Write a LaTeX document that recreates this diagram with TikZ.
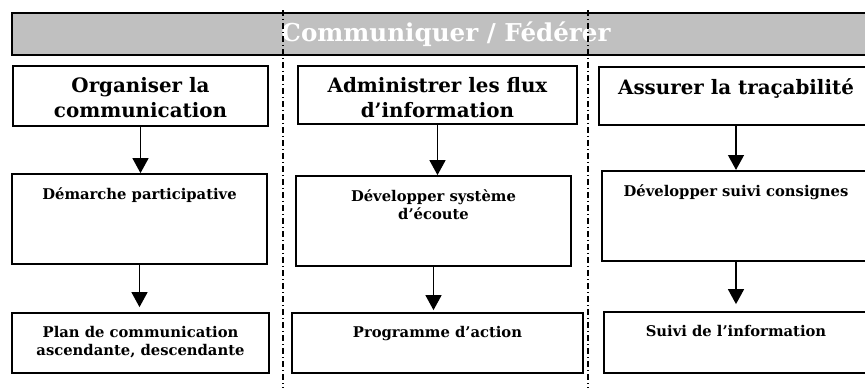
\documentclass[tikz,border=0pt]{standalone}
\usepackage{fontspec}
\setmainfont{DejaVu Serif}
\usepackage{xcolor}
\usetikzlibrary{arrows.meta, positioning}
\definecolor{bandgray}{HTML}{C0C0C0}

\begin{document}
\begin{tikzpicture}[
                  x = 0.02cm, y = -0.02cm,
                  box/.style    = {draw, line width=1pt, inner sep=0pt},
                  band/.style   = {draw, line width=1.2pt, fill=bandgray, text=white,
                                   font=\bfseries\fontsize{14}{16}\selectfont},
                  ttl/.style    = {font=\bfseries\fontsize{11.3}{14.2}\selectfont, align=center, inner sep=0pt},
                  sub/.style    = {font=\bfseries\fontsize{8.4}{10.2}\selectfont, align=center, inner sep=0pt},
                  flow/.style   = {-{Triangle[width=9pt, length=8.5pt]}, line width=1pt},
                  colsep/.style = {line width=0.7pt, dash pattern=on 3.4pt off 1.7pt on 0.6pt off 1.7pt}
            ]
            \useasboundingbox (0,0) rectangle (865,387);
            \clip (0,0) rectangle (865,387);

            % bandeau
            \node[band, minimum width=17.36cm, minimum height=0.84cm] (banner) at (446,34) {Communiquer / Fédérer};

            % colonne 1
            \node[box, minimum width=5.1cm,  minimum height=1.2cm] (orgcom)   at (140.5,96)  {};
            \node[box, minimum width=5.1cm,  minimum height=1.8cm] (demarche) at (139.5,219) {};
            \node[box, minimum width=5.14cm, minimum height=1.2cm] (plancom)  at (140.5,343) {};
            \node[ttl, below=0.24cm of orgcom.north]   {Organiser la\\communication};
            \node[sub, below=0.28cm of demarche.north] {Démarche participative};
            \node[sub, below=0.28cm of plancom.north]  {Plan de communication\\ascendante, descendante};

            % colonne 2
            \node[box, minimum width=5.58cm, minimum height=1.16cm] (flux)    at (437.5,95)  {};
            \node[box, minimum width=5.5cm,  minimum height=1.8cm]  (ecoute)  at (433.5,221) {};
            \node[box, minimum width=5.82cm, minimum height=1.2cm]  (action)  at (437.5,343) {};
            \node[ttl, below=0.24cm of flux.north]   {Administrer les flux\\d’information};
            \node[sub, below=0.28cm of ecoute.north] {Développer système\\d’écoute};
            \node[sub, below=0.28cm of action.north] {Programme d’action};

            % colonne 3
            \node[box, minimum width=5.48cm, minimum height=1.16cm] (traca)    at (736,96)    {};
            \node[box, line width=1.2pt, minimum width=5.36cm, minimum height=1.8cm] (consignes) at (736,216) {};
            \node[box, minimum width=5.28cm, minimum height=1.22cm] (suivi)    at (736,342.5) {};
            \node[ttl, below=0.24cm of traca.north]     {Assurer la traçabilité};
            \node[sub, below=0.28cm of consignes.north] {Développer suivi consignes};
            \node[sub, below=0.28cm of suivi.north]     {Suivi de l’information};

            % fleches
            \draw[flow] (orgcom.south) -- (orgcom.south |- demarche.north);
            \draw[flow, shorten >=0.1cm] (demarche.south) -- (demarche.south |- plancom.north);
            \draw[flow] (flux.south) -- (flux.south |- ecoute.north);
            \draw[flow, shorten >=0.04cm] (ecoute.south) -- (ecoute.south |- action.north);
            \draw[flow] (traca.south) -- (traca.south |- consignes.north);
            \draw[flow, shorten >=0.14cm] (consignes.south) -- (consignes.south |- suivi.north);

            % separateurs
            \coordinate (sepatop) at (283,10);
            \coordinate (sepbtop) at (588,10);
            \draw[colsep] (sepatop) -- ++(0,380);
            \draw[colsep] (sepbtop) -- ++(0,380);
      \end{tikzpicture}
\end{document}
